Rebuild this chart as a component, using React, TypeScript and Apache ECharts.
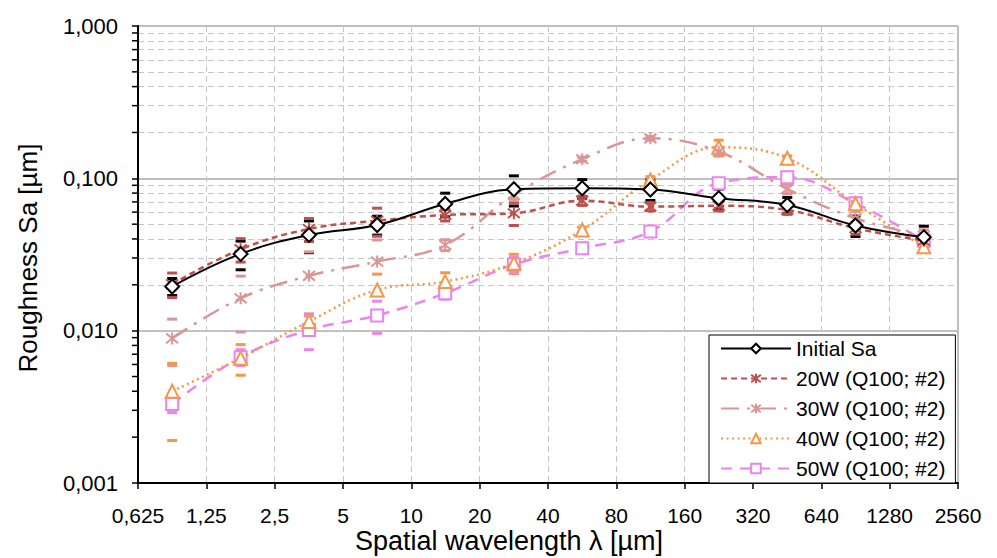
import React, { useEffect, useRef } from "react";
import * as echarts from "echarts";

// x-axis tick labels (spatial wavelength boundaries, µm)
const xTickLabels = ["0,625", "1,25", "2,5", "5", "10", "20", "40", "80", "160", "320", "640", "1280", "2560"];
const xBase = 0.625;
// wavelength at which each point is plotted (band centres, µm)
const pointWavelengths = [0.884, 1.77, 3.54, 7.07, 14.1, 28.3, 56.6, 113, 226, 453, 905, 1810];

const seriesNames = ["Initial Sa", "20W (Q100; #2)", "30W (Q100; #2)", "40W (Q100; #2)", "50W (Q100; #2)"];

const initialSa = [0.0195, 0.0319, 0.0425, 0.0494, 0.0679, 0.0848, 0.0861, 0.0845, 0.074, 0.0669, 0.049, 0.041];
const initialErr = [0.0025, 0.0068, 0.01, 0.007, 0.012, 0.019, 0.012, 0.013, 0.011, 0.008, 0.0075, 0.0075];

const w20 = [0.0202, 0.0342, 0.0465, 0.0527, 0.0575, 0.059, 0.0714, 0.0652, 0.066, 0.062, 0.047, 0.039];
const w20Err = [0.0037, 0.006, 0.008, 0.011, 0.005, 0.01, 0.005, 0.004, 0.005, 0.004, 0.004, 0.003];

const w30 = [0.0089, 0.0163, 0.0229, 0.0284, 0.0365, 0.0778, 0.1335, 0.183, 0.15, 0.0852, 0.0547, 0.042];
const w30Err = [0.003, 0.0065, 0.01, 0.011, 0.003, 0.005, 0.004, 0.005, 0.01, 0.006, 0.006, 0.004];

const w40 = [0.004, 0.0066, 0.0115, 0.0185, 0.021, 0.0277, 0.0458, 0.0976, 0.16, 0.1355, 0.068, 0.0355];
const w40Err = [0.0021, 0.0015, 0.001, 0.005, 0.003, 0.004, 0.002, 0.005, 0.018, 0.005, 0.004, 0.002];

const w50 = [0.0033, 0.0067, 0.0101, 0.0126, 0.0176, 0.0272, 0.0348, 0.0447, 0.093, 0.1017, 0.0686, 0.039];
const w50Err = [0.0004, 0.0008, 0.0026, 0.003, 0.0015, 0.003, 0.002, 0.003, 0.004, 0.006, 0.005, 0.003];

const FONT = "'Liberation Sans', Arial, sans-serif";
const ASTERISK = "path://M1,1L9,9M9,1L1,9M5,0L5,10";

export default function App() {
  const ref = useRef<HTMLDivElement>(null);

  useEffect(() => {
    if (!ref.current) return;
    const chart = echarts.init(ref.current, null, { renderer: "svg" });

    const xPos = pointWavelengths.map((w) => Math.log2(w / xBase));
    const pairs = (vals: number[]) => vals.map((v, i) => [xPos[i], v]);
    const triples = (vals: number[], errs: number[]) => vals.map((v, i) => [xPos[i], v, errs[i]]);

    const defs = [
      { name: seriesNames[0], vals: initialSa, errs: initialErr, color: "#000000", line: "solid" as any, width: 2, symbol: "emptyDiamond", size: 14 },
      { name: seriesNames[1], vals: w20, errs: w20Err, color: "#c0504d", line: [6, 4], width: 2.5, symbol: ASTERISK, size: 12 },
      { name: seriesNames[2], vals: w30, errs: w30Err, color: "#d99694", line: [18, 8, 3, 8], width: 2.5, symbol: ASTERISK, size: 12 },
      { name: seriesNames[3], vals: w40, errs: w40Err, color: "#f79646", line: [2, 3.5], width: 2.5, symbol: "emptyTriangle", size: 13 },
      { name: seriesNames[4], vals: w50, errs: w50Err, color: "#ee82ee", line: [11, 8], width: 2.5, symbol: "emptyRect", size: 12 },
    ];

    const minorVals: number[] = [];
    [0.001, 0.01, 0.1].forEach((d) => {
      for (let k = 2; k <= 9; k++) minorVals.push(+(d * k).toPrecision(3));
    });

    const series: any[] = [];
    // grid helpers (minor horizontal dashed lines, right border)
    series.push({
      type: "line",
      name: "_grid",
      data: [],
      silent: true,
      z: 0,
      markLine: {
        silent: true,
        symbol: "none",
        z: 0,
        label: { show: false },
        data: [
          ...minorVals.map((v) => ({ yAxis: v, lineStyle: { color: "#c6c6c6", width: 1, type: [6, 4] } })),
          { xAxis: 12, lineStyle: { color: "#bfbfbf", width: 2, type: "solid" } },
        ],
      },
    });

    defs.forEach((d) => {
      series.push({
        type: "custom",
        name: d.name + " err",
        data: triples(d.vals, d.errs),
        encode: { x: 0, y: 1 },
        z: 3,
        silent: true,
        renderItem: (params: any, api: any) => {
          const x = api.value(0);
          const v = api.value(1);
          const e = api.value(2);
          const top = api.coord([x, v + e]);
          const bot = api.coord([x, Math.max(v - e, 1e-6)]);
          const hw = 5;
          return {
            type: "group",
            children: [
              { type: "line", shape: { x1: top[0] - hw, y1: top[1], x2: top[0] + hw, y2: top[1] }, style: { stroke: d.color, lineWidth: 3 } },
              { type: "line", shape: { x1: bot[0] - hw, y1: bot[1], x2: bot[0] + hw, y2: bot[1] }, style: { stroke: d.color, lineWidth: 3 } },
            ],
          };
        },
      });
    });

    defs.forEach((d, i) => {
      series.push({
        type: "line",
        name: d.name,
        data: pairs(d.vals),
        smooth: 0.4,
        z: 4 + (defs.length - i),
        symbol: d.symbol,
        symbolSize: d.size,
        showAllSymbol: true,
        lineStyle: { color: d.color, width: d.width, type: d.line },
        itemStyle: {
          color: d.color,
          borderColor: d.color,
          borderWidth: 2,
        },
        emphasis: { disabled: true },
      });
    });

    const option: any = {
      animation: false,
      backgroundColor: "#ffffff",
      textStyle: { fontFamily: FONT },
      grid: { left: 138, top: 26, right: 39, bottom: 75, containLabel: false },
      xAxis: {
        type: "value",
        min: 0,
        max: 12,
        interval: 1,
        axisLine: { show: true, lineStyle: { color: "#000", width: 2 } },
        axisTick: { show: true, inside: false, length: 6, lineStyle: { color: "#000", width: 1.5 } },
        axisLabel: {
          margin: 22,
          fontSize: 21,
          color: "#000",
          fontFamily: FONT,
          showMinLabel: true,
          showMaxLabel: true,
          formatter: (v: number) => xTickLabels[Math.round(v)] ?? "",
        },
        splitLine: { show: true, lineStyle: { color: "#c6c6c6", width: 1, type: [6, 4] } },
      },
      yAxis: {
        type: "log",
        logBase: 10,
        min: 0.001,
        max: 1,
        axisLine: { show: true, lineStyle: { color: "#000", width: 2 } },
        axisTick: { show: true, inside: false, length: 6, lineStyle: { color: "#000", width: 1.5 } },
        axisLabel: {
          margin: 20,
          fontSize: 22,
          color: "#000",
          fontFamily: FONT,
          formatter: (v: number) => v.toFixed(3).replace(".", ","),
        },
        splitLine: { show: true, lineStyle: { color: "#bfbfbf", width: 2, type: "solid" } },
      },
      legend: {
        data: seriesNames,
        orient: "vertical",
        left: 709,
        top: 335,
        padding: [3, 10, 4, 11],
        itemGap: 9,
        itemWidth: 70,
        itemHeight: 12,
        backgroundColor: "#ffffff",
        borderColor: "#000000",
        borderWidth: 1,
        borderRadius: 0,
        selectedMode: false,
        textStyle: { fontSize: 21, color: "#000", fontFamily: FONT },
      },
      graphic: [
        {
          id: "ytitle",
          type: "text",
          x: 28,
          y: 258,
          rotation: Math.PI / 2,
          style: { text: "Roughness Sa [µm]", font: `26px ${FONT}`, fill: "#000", align: "center", verticalAlign: "middle" },
        },
        {
          id: "xtitle",
          type: "text",
          x: 509,
          y: 541,
          style: { text: "Spatial wavelength λ [µm]", font: `27px ${FONT}`, fill: "#000", align: "center", verticalAlign: "middle" },
        },
      ],
      series,
    };

    chart.setOption(option);

    // minor ticks on the y axis (outward)
    const x0 = chart.convertToPixel({ xAxisIndex: 0 }, 0) as number;
    const ticks = minorVals.map((v, i) => {
      const y = chart.convertToPixel({ yAxisIndex: 0 }, v) as number;
      return {
        id: "mt" + i,
        type: "line",
        shape: { x1: x0 - 6, y1: y, x2: x0, y2: y },
        style: { stroke: "#000", lineWidth: 1.5 },
        z: 10,
      };
    });
    chart.setOption({ graphic: { elements: ticks } });

    return () => chart.dispose();
  }, []);

  return <div ref={ref} style={{ width: 997, height: 558, marginLeft: -8, marginTop: -8 }} />;
}
